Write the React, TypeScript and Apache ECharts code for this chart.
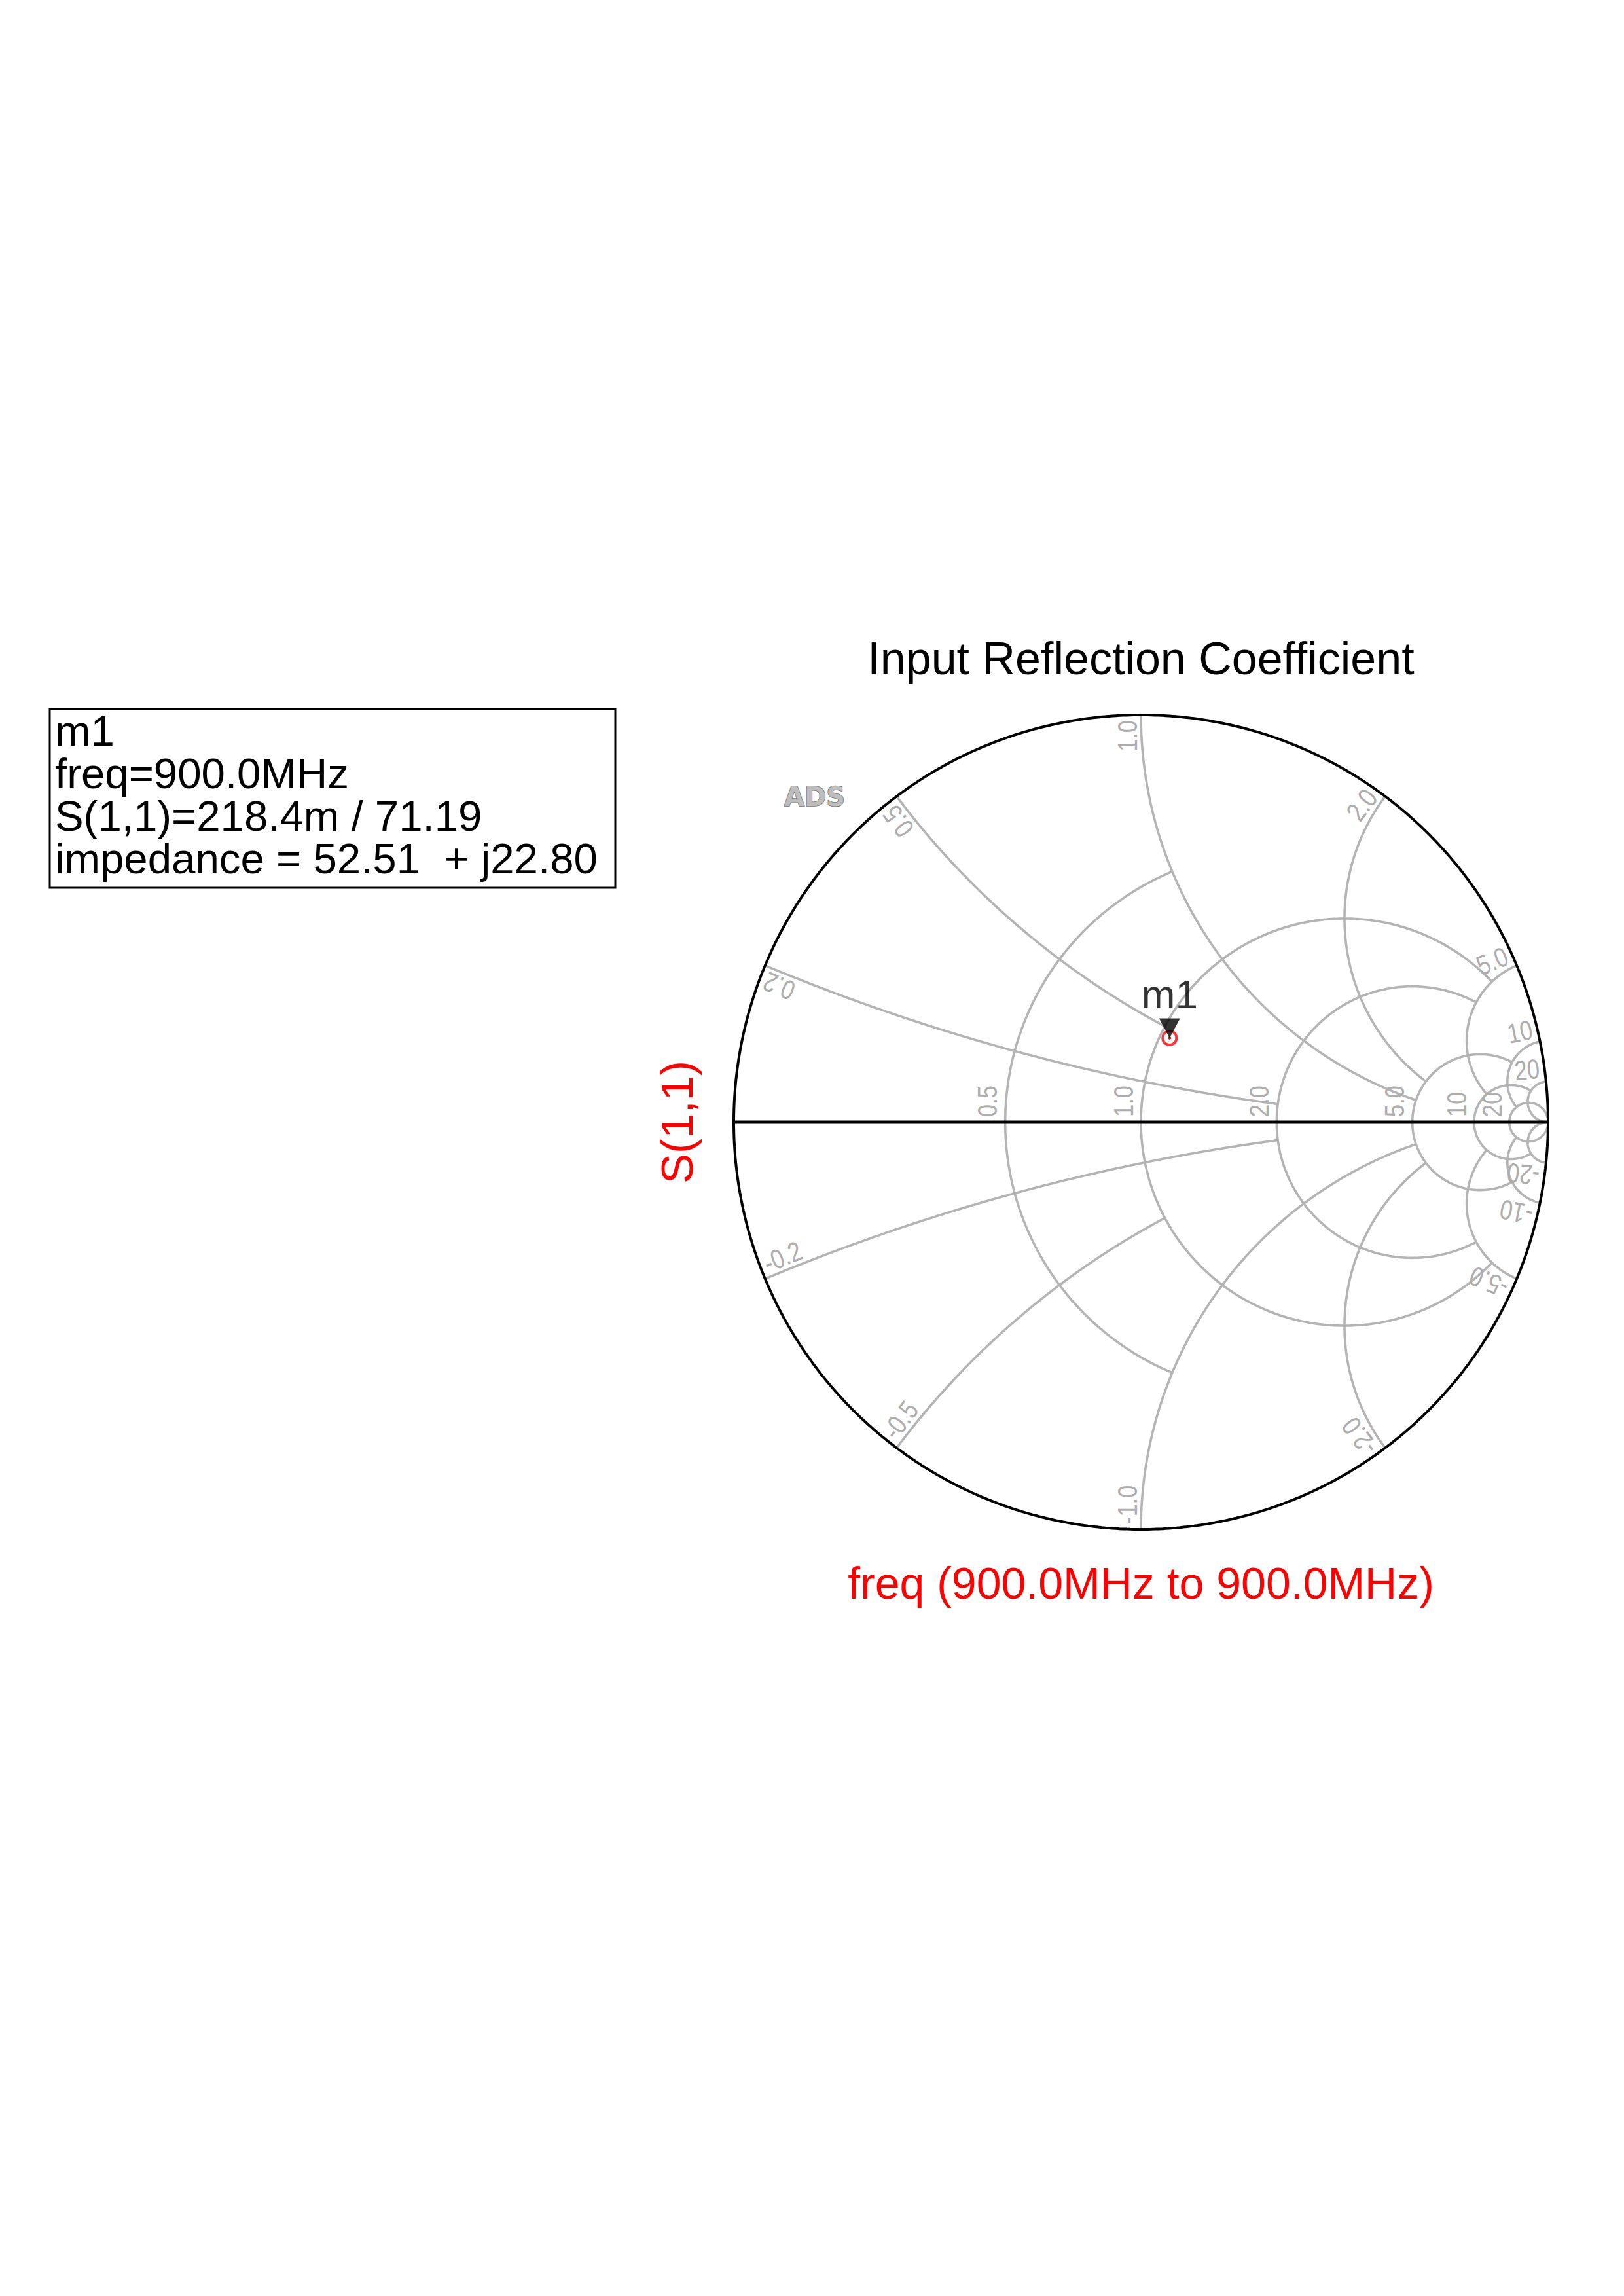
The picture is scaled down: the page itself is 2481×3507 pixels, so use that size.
import { useEffect, useRef } from "react";
import * as echarts from "echarts";

const PAGE_W = 2481;
const PAGE_H = 3507;

// Smith chart placement on the page (centre and radius in px)
const CX = 1743;
const CY = 1714;
const RADIUS = 622;

// Constant-resistance circles and the |x| up to which each one is drawn
const resistanceCircles = [0.5, 1, 2, 5, 10, 20];
const resistanceReach = [1, 5, 5, 10, 20, Infinity];
const resistanceTickLabels = ["0.5", "1.0", "2.0", "5.0", "10", "20"];

// Constant-reactance arcs and the r up to which each one is drawn
const reactanceArcs = [0.2, 0.5, 1, 2, 5, 10, 20];
const reactanceReach = [2, 1, 5, 5, 10, 20, Infinity];
const reactanceTickLabels = ["0.2", "0.5", "1.0", "2.0", "5.0", "10", "20"];

// Marker m1 on S(1,1)
const markerName = "m1";
const sweepStartMHz = 900.0;
const sweepStopMHz = 900.0;
const markerFreqMHz = 900.0;
const s11Magnitude = 0.2184;
const s11PhaseDeg = 71.19;
const impedanceReal = 52.51;
const impedanceImag = 22.8;

const GRID_GRAY = "#b4b4b4";
const LABEL_GRAY = "#adadad";
const FONT = "'Liberation Sans', Arial, Helvetica, sans-serif";

// z = r + jx  ->  reflection coefficient
function gammaOf(r: number, x: number): [number, number] {
  if (!isFinite(r) || !isFinite(x)) return [1, 0];
  const den = (r + 1) * (r + 1) + x * x;
  return [(r * r - 1 + x * x) / den, (2 * x) / den];
}

function arcPoints(cx: number, cy: number, rho: number, a0: number, a1: number, n = 360) {
  const pts: number[][] = [];
  for (let i = 0; i <= n; i++) {
    const a = a0 + ((a1 - a0) * i) / n;
    pts.push([cx + rho * Math.cos(a), cy + rho * Math.sin(a)]);
  }
  return pts;
}

function resistancePath(r: number, reach: number) {
  const c = r / (1 + r);
  const rho = 1 / (1 + r);
  let phi = 0;
  if (isFinite(reach)) {
    const [gx, gy] = gammaOf(r, reach);
    phi = Math.atan2(gy, gx - c);
  }
  return arcPoints(c, 0, rho, phi, 2 * Math.PI - phi);
}

function reactancePath(x: number, reach: number) {
  const s = Math.sign(x);
  const ax = Math.abs(x);
  const cy = 1 / ax;
  const p0 = gammaOf(0, ax);
  const p1 = gammaOf(reach, ax);
  const a0 = Math.atan2(p0[1] - cy, p0[0] - 1);
  let a1 = Math.atan2(p1[1] - cy, p1[0] - 1);
  if (a1 < a0) a1 += 2 * Math.PI;
  return arcPoints(1, cy, cy, a0, a1).map(([u, v]) => [u, s * v]);
}

type LabelItem = { gx: number; gy: number; text: string; kind: "axis" | "upper" | "lower" };

const labelItems: LabelItem[] = [
  ...resistanceCircles.map((r, i) => {
    const [gx, gy] = gammaOf(r, 0);
    return { gx, gy, text: resistanceTickLabels[i], kind: "axis" as const };
  }),
  ...reactanceArcs.map((x, i) => {
    const [gx, gy] = gammaOf(0, x);
    return { gx, gy, text: reactanceTickLabels[i], kind: "upper" as const };
  }),
  ...reactanceArcs.map((x, i) => {
    const [gx, gy] = gammaOf(0, -x);
    return { gx, gy, text: "-" + reactanceTickLabels[i], kind: "lower" as const };
  }),
];

const phase = (s11PhaseDeg * Math.PI) / 180;
const markerGamma = [s11Magnitude * Math.cos(phase), s11Magnitude * Math.sin(phase)];

const readout = [
  markerName,
  `freq=${markerFreqMHz.toFixed(1)}MHz`,
  `S(1,1)=${(s11Magnitude * 1000).toFixed(1)}m / ${s11PhaseDeg.toFixed(2)}`,
  `impedance = ${impedanceReal.toFixed(2)}  + j${impedanceImag.toFixed(2)}`,
];

function buildOption(): echarts.EChartsOption {
  const gridLine = (data: number[][]) => ({
    type: "line" as const,
    data,
    showSymbol: false,
    silent: true,
    z: 1,
    lineStyle: { color: GRID_GRAY, width: 3.6 },
  });

  const series: any[] = [];
  resistanceCircles.forEach((r, i) => series.push(gridLine(resistancePath(r, resistanceReach[i]))));
  reactanceArcs.forEach((x, i) => {
    series.push(gridLine(reactancePath(x, reactanceReach[i])));
    series.push(gridLine(reactancePath(-x, reactanceReach[i])));
  });

  // outer boundary |Γ| = 1 and the real axis
  series.push({
    type: "line",
    data: arcPoints(0, 0, 1, 0, 2 * Math.PI, 720),
    showSymbol: false,
    silent: true,
    z: 3,
    lineStyle: { color: "#000", width: 4 },
  });
  series.push({
    type: "line",
    data: [
      [-1, 0],
      [1, 0],
    ],
    showSymbol: false,
    silent: true,
    z: 3,
    lineStyle: { color: "#000", width: 5 },
  });

  // grid value labels
  series.push({
    type: "custom",
    z: 4,
    silent: true,
    data: labelItems.map((l) => [l.gx, l.gy]),
    renderItem: (params: any, api: any) => {
      const it = labelItems[params.dataIndex];
      const p = api.coord([api.value(0), api.value(1)]);
      const style = {
        text: it.text,
        fill: LABEL_GRAY,
        fontSize: 42,
        fontFamily: FONT,
        verticalAlign: "bottom",
        align: "left",
      };
      if (it.kind === "axis") {
        return { type: "text", x: p[0] - 6, y: p[1] - 8, rotation: Math.PI / 2, scaleX: 0.82, style };
      }
      const th = Math.atan2(it.gy, it.gx);
      const ux = Math.cos(th);
      const uy = -Math.sin(th);
      return {
        type: "text",
        x: p[0] - ux * 8,
        y: p[1] - uy * 8,
        rotation: it.kind === "upper" ? th : th + Math.PI,
        scaleX: 0.82,
        style: { ...style, align: it.kind === "upper" ? "right" : "left" },
      };
    },
  });

  // marker m1
  series.push({
    type: "scatter",
    z: 6,
    silent: true,
    data: [markerGamma],
    symbol: "circle",
    symbolSize: 21,
    itemStyle: { color: "rgba(255,255,255,0)", borderColor: "#ff0000", borderWidth: 4 },
  });
  series.push({
    type: "scatter",
    z: 6,
    silent: true,
    data: [markerGamma],
    symbol: "circle",
    symbolSize: 5,
    itemStyle: { color: "#a00000" },
  });
  series.push({
    type: "scatter",
    z: 7,
    silent: true,
    data: [markerGamma],
    symbol: "triangle",
    symbolRotate: 180,
    symbolSize: [32, 30],
    symbolOffset: [0, -15],
    itemStyle: { color: "#000" },
    label: {
      show: true,
      formatter: markerName,
      position: "top",
      distance: 6,
      color: "#000",
      fontSize: 62,
      fontFamily: FONT,
    },
  });

  return {
    animation: false,
    backgroundColor: "#fff",
    grid: { left: CX - RADIUS, top: CY - RADIUS, width: 2 * RADIUS, height: 2 * RADIUS },
    xAxis: { type: "value", min: -1, max: 1, show: false },
    yAxis: { type: "value", min: -1, max: 1, show: false },
    series,
    graphic: [
      {
        type: "text",
        x: CX,
        y: 1006,
        style: {
          text: "Input Reflection Coefficient",
          fill: "#000",
          fontSize: 70,
          fontFamily: FONT,
          align: "center",
          verticalAlign: "middle",
        },
      },
      {
        type: "text",
        x: 1034,
        y: CY,
        rotation: Math.PI / 2,
        style: {
          text: "S(1,1)",
          fill: "#ff0000",
          fontSize: 69,
          fontFamily: FONT,
          align: "center",
          verticalAlign: "middle",
        },
      },
      {
        type: "text",
        x: CX,
        y: 2418,
        style: {
          text: `freq (${sweepStartMHz.toFixed(1)}MHz to ${sweepStopMHz.toFixed(1)}MHz)`,
          fill: "#ff0000",
          fontSize: 68,
          fontFamily: FONT,
          align: "center",
          verticalAlign: "middle",
        },
      },
      {
        type: "text",
        x: 1198,
        y: 1217,
        style: {
          text: "ADS",
          fill: "#bdbdbd",
          stroke: "#6f6f6f",
          lineWidth: 1.5,
          fontSize: 40,
          fontWeight: "bold",
          fontFamily: "'DejaVu Sans', 'Liberation Sans', sans-serif",
          align: "left",
          verticalAlign: "middle",
        },
      },
      {
        type: "rect",
        shape: { x: 76, y: 1083, width: 864, height: 273 },
        style: { fill: "#fff", stroke: "#000", lineWidth: 3 },
      },
      ...readout.map((line, i) => ({
        type: "text" as const,
        x: 84,
        y: 1139 - 22 + i * 65,
        scaleX: 1.022,
        style: {
          text: line,
          fill: "#000",
          fontSize: 64,
          fontFamily: FONT,
          align: "left" as const,
          verticalAlign: "middle" as const,
        },
      })),
    ],
  };
}

export default function App() {
  const ref = useRef<HTMLDivElement>(null);
  useEffect(() => {
    if (!ref.current) return;
    const chart = echarts.init(ref.current, undefined, { renderer: "svg" });
    chart.setOption(buildOption());
    return () => chart.dispose();
  }, []);
  return (
    <div
      ref={ref}
      style={{ position: "absolute", left: 0, top: 0, width: PAGE_W, height: PAGE_H, background: "#fff" }}
    />
  );
}
